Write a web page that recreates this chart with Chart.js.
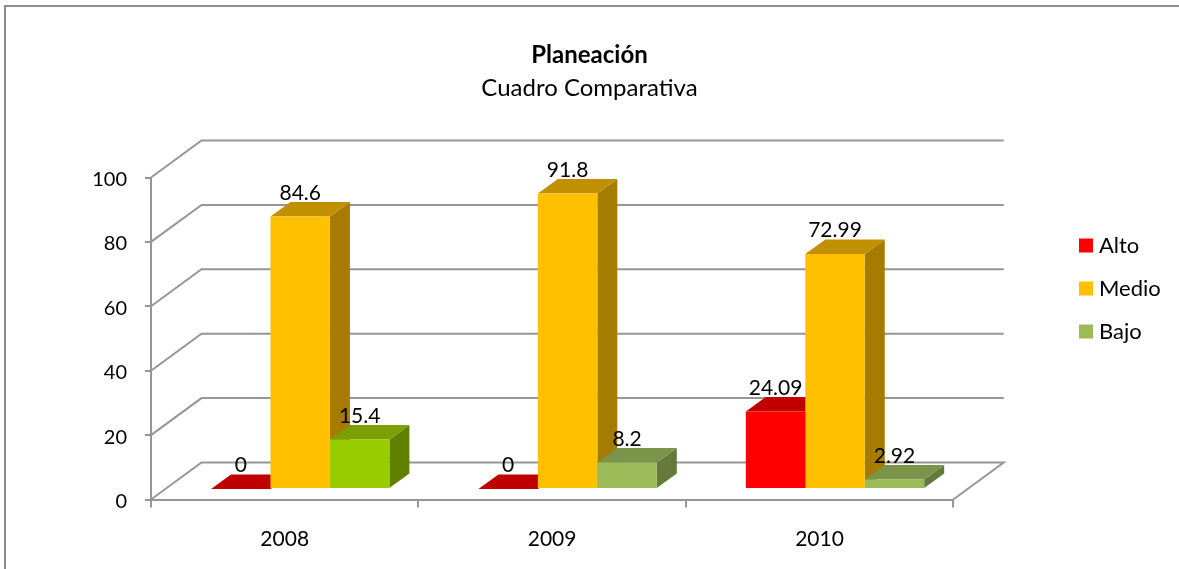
<!DOCTYPE html>
<html>
<head>
<meta charset="utf-8">
<title>Planeación</title>
<script src="https://cdn.jsdelivr.net/npm/chart.js@4"></script>
<style>
  html, body { margin: 0; padding: 0; background: #fff; overflow: hidden; }
  #wrap { position: relative; width: 1179px; height: 569px; overflow: hidden; }
  #frame { position: absolute; left: 4px; top: 5px; width: 1175px; height: 564px; border-top: 2px solid #8c8c8c; border-left: 2px solid #8c8c8c; box-sizing: border-box; }
  canvas { position: absolute; left: 0; top: 0; }
</style>
</head>
<body>
<div id="wrap">
  <div id="frame"></div>
  <canvas id="myChart" width="1179" height="569"></canvas>
</div>
<script>
const categories = ['2008', '2009', '2010'];
const alto = [0, 0, 24.09];
const medio = [84.6, 91.8, 72.99];
const bajo = [15.4, 8.2, 2.92];
const yTicks = [0, 20, 40, 60, 80, 100];

// colores por punto: [frente, tapa, lado]
const altoColors = [['#ff0000', '#c00000', '#a00000'], ['#ff0000', '#c00000', '#a00000'], ['#ff0000', '#c00000', '#a00000']];
const medioColors = [['#ffc000', '#c09000', '#a67c00'], ['#ffc000', '#c09000', '#a67c00'], ['#ffc000', '#c09000', '#a67c00']];
const bajoColors = [['#99cc00', '#7a9f00', '#608000'], ['#9bbb59', '#7a9449', '#657a3a'], ['#9bbb59', '#7a9449', '#657a3a']];
const allColors = [altoColors, medioColors, bajoColors];

const FONT = 'Lato, "Noto Sans", sans-serif';
const GRID = '#969696';

// profundidad de la caja y de las barras
const wall = { dx: 50.5, dy: -37 };
const bar = { dx: 20, dy: -14.5 };
const shift = { x: 15.5, y: -10.5 };

const fake3d = {
  id: 'fake3d',
  afterLayout(chart) {
    // leyenda separada del area del grafico
    const legend = chart.legend;
    legend.left = 1084 - legend.options.labels.padding;
    legend.right = legend.left + legend.width;
    legend.top += 4;
    legend.bottom += 4;
    // titulo y subtitulo centrados en todo el lienzo, no solo hasta el padding
    chart.boxes.forEach((box) => {
      if (box.options && 'text' in box.options) {
        box.left = 0;
        box.right = chart.width;
      }
    });
    // las etiquetas del eje y van un poco mas abajo
    chart.scales.y.getLabelItems().forEach((item) => { item.textOffset += 2; });
  },
  beforeDatasetsDraw(chart) {
    const ctx = chart.ctx;
    const y = chart.scales.y;
    const left = chart.chartArea.left;
    const right = chart.chartArea.right;

    // pared del fondo y diagonales
    ctx.save();
    ctx.strokeStyle = GRID;
    ctx.lineWidth = 2;
    yTicks.forEach((t) => {
      const py = y.getPixelForValue(t);
      ctx.beginPath();
      ctx.moveTo(left, py);
      ctx.lineTo(left + wall.dx, py + wall.dy);
      ctx.lineTo(right + wall.dx, py + wall.dy);
      if (t === 0) {
        ctx.lineTo(right, py);
      }
      ctx.stroke();
    });
    ctx.restore();

    // caras de profundidad, luego Chart.js pinta los frentes encima
    ctx.save();
    ctx.translate(shift.x, shift.y);
    chart.data.datasets.forEach((ds, i) => {
      chart.getDatasetMeta(i).data.forEach((el, j) => {
        const x0 = el.x - el.width / 2;
        const x1 = el.x + el.width / 2;
        const top = el.y;
        const base = el.base;
        const c = allColors[i][j];

        ctx.fillStyle = c[2];
        ctx.beginPath();
        ctx.moveTo(x1, top);
        ctx.lineTo(x1 + bar.dx, top + bar.dy);
        ctx.lineTo(x1 + bar.dx, base + bar.dy);
        ctx.lineTo(x1, base);
        ctx.closePath();
        ctx.fill();

        ctx.fillStyle = c[1];
        ctx.beginPath();
        ctx.moveTo(x0, top);
        ctx.lineTo(x0 + bar.dx, top + bar.dy);
        ctx.lineTo(x1 + bar.dx, top + bar.dy);
        ctx.lineTo(x1, top);
        ctx.closePath();
        ctx.fill();
      });
    });
    // se restaura en afterDatasetsDraw, los frentes van desplazados igual
  },
  afterDatasetsDraw(chart) {
    const ctx = chart.ctx;
    ctx.restore();

    // etiquetas de datos
    ctx.save();
    ctx.fillStyle = '#000';
    ctx.font = '21px ' + FONT;
    ctx.textAlign = 'center';
    ctx.textBaseline = 'middle';
    chart.data.datasets.forEach((ds, i) => {
      chart.getDatasetMeta(i).data.forEach((el, j) => {
        ctx.fillText(String(ds.data[j]), el.x + shift.x, el.y + shift.y - 23.5);
      });
    });
    ctx.restore();
  }
};

const dataset = {
  labels: categories,
  datasets: [
    { label: 'Alto', data: alto, backgroundColor: altoColors.map((c) => c[0]) },
    { label: 'Medio', data: medio, backgroundColor: medioColors.map((c) => c[0]) },
    { label: 'Bajo', data: bajo, backgroundColor: bajoColors.map((c) => c[0]) }
  ]
};

const config = {
  type: 'bar',
  data: dataset,
  plugins: [fake3d],
  options: {
    responsive: false,
    animation: false,
    layout: { padding: { left: 0, right: 118, top: 0, bottom: 0 } },
    datasets: { bar: { categoryPercentage: 0.667, barPercentage: 1, borderWidth: 0 } },
    plugins: {
      title: {
        display: true,
        text: 'Planeación',
        color: '#000',
        font: { family: FONT, size: 24, weight: 'bold', lineHeight: 1.2 },
        padding: { top: 40.6, bottom: 0 }
      },
      subtitle: {
        display: true,
        text: 'Cuadro Comparativa',
        color: '#000',
        font: { family: FONT, size: 24, weight: 'normal', lineHeight: 1.2 },
        padding: { top: 4.2, bottom: 75.1 }
      },
      legend: {
        position: 'right',
        align: 'center',
        labels: {
          color: '#000',
          usePointStyle: true,
          boxWidth: 4,
          boxHeight: 14,
          padding: 21,
          font: { family: FONT, size: 22 },
          generateLabels(chart) {
            return chart.data.datasets.map((ds, i) => ({
              text: ds.label,
              fillStyle: i === 2 ? '#9bbb59' : ds.backgroundColor[0],
              strokeStyle: 'transparent',
              lineWidth: 0,
              pointStyle: 'rect',
              datasetIndex: i
            }));
          }
        }
      },
      tooltip: { enabled: false }
    },
    scales: {
      x: {
        afterFit(scale) { scale.height = 69.5; },
        border: { color: GRID, width: 2 },
        grid: { drawOnChartArea: false, color: GRID, lineWidth: 2, tickLength: 8 },
        ticks: { color: '#000', padding: 19, maxRotation: 0, font: { family: FONT, size: 21 } }
      },
      y: {
        min: 0,
        max: 100,
        afterFit(scale) { scale.width = 151; },
        border: { color: GRID, width: 2 },
        grid: { drawOnChartArea: false, color: GRID, lineWidth: 2, tickLength: 6 },
        ticks: { color: '#000', padding: 18, stepSize: 20, font: { family: FONT, size: 20 } }
      }
    }
  }
};

new Chart(document.getElementById('myChart'), config);
</script>
</body>
</html>
